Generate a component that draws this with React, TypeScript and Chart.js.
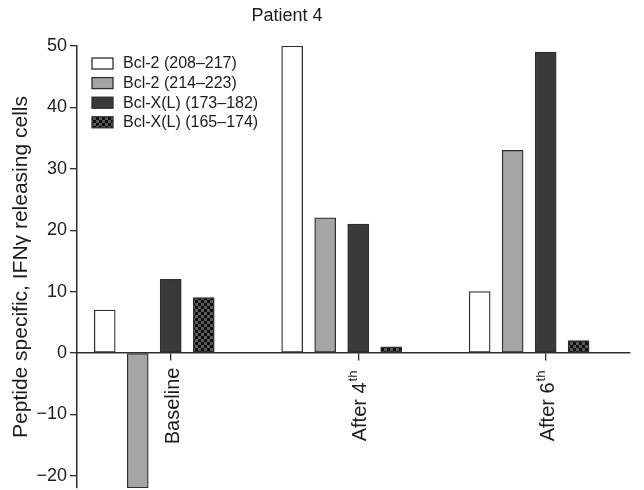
import React, { useEffect, useRef } from 'react';
import { Chart, registerables } from 'chart.js';

Chart.register(...registerables);

// ---- data ----
const categories = ['Baseline', 'After 4', 'After 6'];
const categorySup = ['', 'th', 'th'];
const seriesNames = ['Bcl-2 (208–217)', 'Bcl-2 (214–223)', 'Bcl-X(L) (173–182)', 'Bcl-X(L) (165–174)'];
const bcl2_208 = [7, 50, 10];
const bcl2_214 = [-22, 22, 33];
const bclxl_173 = [12, 21, 49];
const bclxl_165 = [9, 1, 2];
const yTicks = [-20, -10, 0, 10, 20, 30, 40, 50];
const chartTitle = 'Patient 4';
const yTitle = 'Peptide specific, IFNγ releasing cells';

// ---- styling ----
const FONT = '"Liberation Sans", Arial, Helvetica, sans-serif';
const INK = '#1c1c1c';
const LINE = '#2e2e2e';
const SLOT = 0.176; // horizontal spacing between bars inside a group (in category units)
const slotIndex = [-2, -1, 0, 1];

function makeChecker(): CanvasPattern | string {
  const c = document.createElement('canvas');
  c.width = 6;
  c.height = 6;
  const g = c.getContext('2d');
  if (!g) return '#222';
  g.fillStyle = '#0d0d0d';
  g.fillRect(0, 0, 6, 6);
  g.fillStyle = '#5a5a5a';
  g.fillRect(0, 0, 3, 3);
  g.fillRect(3, 3, 3, 3);
  const p = g.createPattern(c, 'repeat');
  return p || '#222';
}

const overlayPlugin = {
  id: 'overlay',
  afterDraw(chart: any) {
    const { ctx, chartArea, scales } = chart;
    const xs = scales.x;
    const ys = scales.y;
    ctx.save();
    // title
    ctx.fillStyle = INK;
    ctx.font = `18px ${FONT}`;
    ctx.textAlign = 'center';
    ctx.textBaseline = 'middle';
    ctx.fillText(chartTitle, 287, 16);

    // category labels (rotated, with superscript)
    const y0 = ys.getPixelForValue(0);
    categories.forEach((c, i) => {
      const px = xs.getPixelForValue(i);
      ctx.save();
      ctx.translate(px, y0 + 53);
      ctx.rotate(-Math.PI / 2);
      ctx.font = `20px ${FONT}`;
      const w1 = ctx.measureText(c).width;
      ctx.font = `13px ${FONT}`;
      const sup = categorySup[i];
      const w2 = sup ? ctx.measureText(sup).width + 1 : 0;
      const start = -(w1 + w2) / 2;
      ctx.textAlign = 'left';
      ctx.textBaseline = 'alphabetic';
      ctx.fillStyle = INK;
      ctx.font = `20px ${FONT}`;
      ctx.fillText(c, start, 8);
      if (sup) {
        ctx.font = `13px ${FONT}`;
        ctx.fillText(sup, start + w1 + 1, -1);
      }
      ctx.restore();
    });

    // legend inside plot area
    const lx = chartArea.left + 15;
    const ly = chartArea.top + 17.5;
    chart.data.datasets.forEach((ds: any, i: number) => {
      const cy = ly + i * 19.6;
      ctx.fillStyle = ds.backgroundColor;
      ctx.fillRect(lx, cy - 5.5, 21, 11);
      ctx.strokeStyle = LINE;
      ctx.lineWidth = 1.3;
      ctx.strokeRect(lx, cy - 5.5, 21, 11);
      ctx.fillStyle = INK;
      ctx.font = `16px ${FONT}`;
      ctx.textAlign = 'left';
      ctx.textBaseline = 'middle';
      ctx.fillText(ds.label, lx + 31, cy + 0.5);
    });
    ctx.restore();
  },
};

export default function App() {
  const ref = useRef<HTMLCanvasElement | null>(null);

  useEffect(() => {
    if (!ref.current) return;
    const checker = makeChecker();
    const series = [bcl2_208, bcl2_214, bclxl_173, bclxl_165];
    const fills: any[] = ['#ffffff', '#a5a5a5', '#3a3a3a', checker];

    const chart = new Chart(ref.current, {
      type: 'bar',
      data: {
        datasets: series.map((vals, k) => ({
          label: seriesNames[k],
          data: vals.map((v, i) => ({ x: i + slotIndex[k] * SLOT, y: v })),
          backgroundColor: fills[k],
          borderColor: LINE,
          borderWidth: 1.3,
          borderSkipped: false,
          grouped: false,
          barThickness: 21,
        })),
      },
      options: {
        animation: false,
        responsive: true,
        maintainAspectRatio: false,
        layout: { padding: { top: 46, right: 14, bottom: 2, left: 0 } },
        plugins: {
          legend: { display: false },
          title: { display: false },
          tooltip: { enabled: false },
        },
        scales: {
          x: {
            type: 'linear',
            position: { y: 0 } as any,
            offset: false,
            min: -0.5,
            max: 2.45,
            afterFit: (s: any) => {
              s.height = 0;
              s.paddingLeft = 0;
              s.paddingRight = 0;
            },
            afterBuildTicks: (s: any) => {
              s.ticks = categories.map((_, i) => ({ value: i }));
            },
            ticks: { display: false },
            grid: { offset: false, drawOnChartArea: false, drawTicks: true, tickLength: 7, color: LINE, lineWidth: 1.3 },
            border: { display: true, color: LINE, width: 1.5 },
          },
          y: {
            type: 'linear',
            min: -22,
            max: 50,
            afterFit: (s: any) => {
              s.width = 77;
              s.paddingTop = 0;
              s.paddingBottom = 0;
            },
            afterBuildTicks: (s: any) => {
              s.ticks = yTicks.map((v) => ({ value: v }));
            },
            ticks: {
              font: { size: 18, family: FONT },
              color: INK,
              padding: 3,
              callback: (v: any) => (Number(v) < 0 ? '\u2212' + Math.abs(Number(v)) : String(v)),
            },
            grid: { drawOnChartArea: false, drawTicks: true, tickLength: 7, color: LINE, lineWidth: 1.3 },
            border: { display: true, color: LINE, width: 1.5 },
            title: {
              display: true,
              text: yTitle,
              font: { size: 21, family: FONT },
              color: INK,
              padding: { top: 9, bottom: 0 },
            },
          },
        },
      },
      plugins: [overlayPlugin],
    } as any);

    return () => chart.destroy();
  }, []);

  return (
    <div style={{ position: 'fixed', left: 0, top: 0, width: 644, height: 490, background: '#fff' }}>
      <canvas ref={ref} />
    </div>
  );
}
